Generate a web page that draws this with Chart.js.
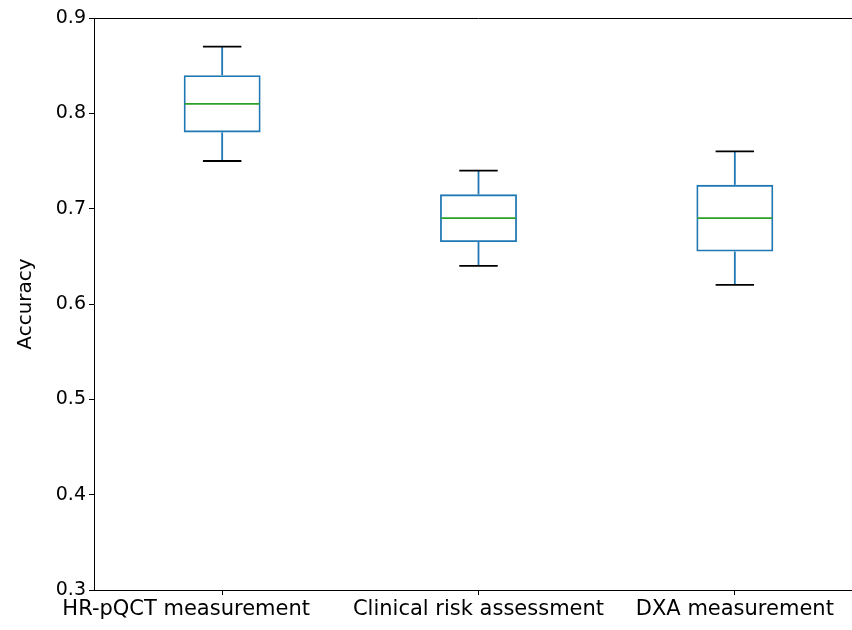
<!DOCTYPE html>
<html>
<head>
<meta charset="utf-8">
<script src="https://cdn.jsdelivr.net/npm/chart.js@4.4.0/dist/chart.umd.min.js"></script>
<style>
  html, body { margin: 0; padding: 0; background: #fff; width: 852px; height: 630px; overflow: hidden; }
  canvas { display: block; }
</style>
</head>
<body>
<canvas id="c" width="864" height="630"></canvas>
<script>
// Five-number summaries of accuracy for each assessment approach
const categories = ['HR-pQCT measurement', 'Clinical risk assessment', 'DXA measurement'];
const lowerWhisker  = [0.75, 0.64, 0.62];
const lowerQuartile = [0.78, 0.665, 0.655];
const medians       = [0.81, 0.69, 0.69];
const upperQuartile = [0.84, 0.715, 0.725];
const upperWhisker  = [0.87, 0.74, 0.76];
const yTicks = [0.3, 0.4, 0.5, 0.6, 0.7, 0.8, 0.9];

const FONT = 'DejaVu Sans';
const BOX_BLUE = '#1f77b4';
const MEDIAN_GREEN = '#2ca02c';
const LINE_W = 1.8;

// Whiskers, caps and median lines drawn on top of the quartile boxes
const boxParts = {
  id: 'boxParts',
  afterDatasetsDraw(chart) {
    const { ctx, scales: { y } } = chart;
    const meta = chart.getDatasetMeta(0);
    const seg = (x1, y1, x2, y2) => { ctx.beginPath(); ctx.moveTo(x1, y1); ctx.lineTo(x2, y2); ctx.stroke(); };
    ctx.save();
    ctx.lineWidth = LINE_W;
    meta.data.forEach((bar, i) => {
      const cx = bar.x;
      const hw = bar.width / 2;
      const capHw = hw / 2;
      const yLw = y.getPixelForValue(lowerWhisker[i]);
      const yLq = y.getPixelForValue(lowerQuartile[i]);
      const yMd = y.getPixelForValue(medians[i]);
      const yUq = y.getPixelForValue(upperQuartile[i]);
      const yUw = y.getPixelForValue(upperWhisker[i]);
      ctx.strokeStyle = BOX_BLUE;
      seg(cx, yUq, cx, yUw);
      seg(cx, yLq, cx, yLw);
      ctx.strokeStyle = '#000';
      seg(cx - capHw, yUw, cx + capHw, yUw);
      seg(cx - capHw, yLw, cx + capHw, yLw);
      ctx.strokeStyle = MEDIAN_GREEN;
      seg(cx - hw + LINE_W / 2, yMd, cx + hw - LINE_W / 2, yMd);
    });
    ctx.restore();
  }
};

// Top spine and category labels under the x ticks
const frameAndLabels = {
  id: 'frameAndLabels',
  afterDraw(chart) {
    const { ctx, chartArea, scales: { x } } = chart;
    ctx.save();
    ctx.strokeStyle = '#000';
    ctx.lineWidth = 1;
    const top = Math.round(chartArea.top) + 0.5;
    ctx.beginPath();
    ctx.moveTo(chartArea.left, top);
    ctx.lineTo(chartArea.right, top);
    ctx.stroke();

    ctx.fillStyle = '#000';
    ctx.font = '21px "' + FONT + '"';
    ctx.textAlign = 'center';
    ctx.textBaseline = 'top';
    const shifts = [-36, 0, 0];
    categories.forEach((label, i) => {
      ctx.fillText(label, x.getPixelForValue(i) + shifts[i], chartArea.bottom + 9);
    });
    ctx.restore();
  }
};

new Chart(document.getElementById('c'), {
  type: 'bar',
  data: {
    labels: categories,
    datasets: [{
      data: categories.map((_, i) => [lowerQuartile[i], upperQuartile[i]]),
      backgroundColor: 'rgba(0,0,0,0)',
      borderColor: BOX_BLUE,
      borderWidth: LINE_W,
      borderSkipped: false,
      barPercentage: 0.3,
      categoryPercentage: 1
    }]
  },
  options: {
    responsive: false,
    animation: false,
    events: [],
    layout: { padding: { top: 18, right: 1, left: 0, bottom: 0 } },
    plugins: { legend: { display: false }, tooltip: { enabled: false } },
    scales: {
      x: {
        type: 'category',
        offset: true,
        grid: { display: true, drawOnChartArea: false, drawTicks: true, tickLength: 5, tickColor: '#000', offset: false },
        border: { display: true, color: '#000', width: 1 },
        ticks: { display: false },
        afterFit(scale) { scale.height = 40; }
      },
      y: {
        min: 0.3,
        max: 0.9,
        afterBuildTicks(scale) { scale.ticks = yTicks.map(v => ({ value: v })); },
        ticks: {
          callback: v => Number(v).toFixed(1),
          font: { family: FONT, size: 19 },
          color: '#000',
          padding: 3
        },
        grid: { display: true, drawOnChartArea: false, drawTicks: true, tickLength: 5, tickColor: '#000' },
        border: { display: true, color: '#000', width: 1 },
        title: {
          display: true,
          text: 'Accuracy',
          font: { family: FONT, size: 20 },
          color: '#000',
          padding: { top: 14, bottom: 0 }
        },
        afterFit(scale) { scale.width = 94; }
      }
    }
  },
  plugins: [boxParts, frameAndLabels]
});
</script>
</body>
</html>
